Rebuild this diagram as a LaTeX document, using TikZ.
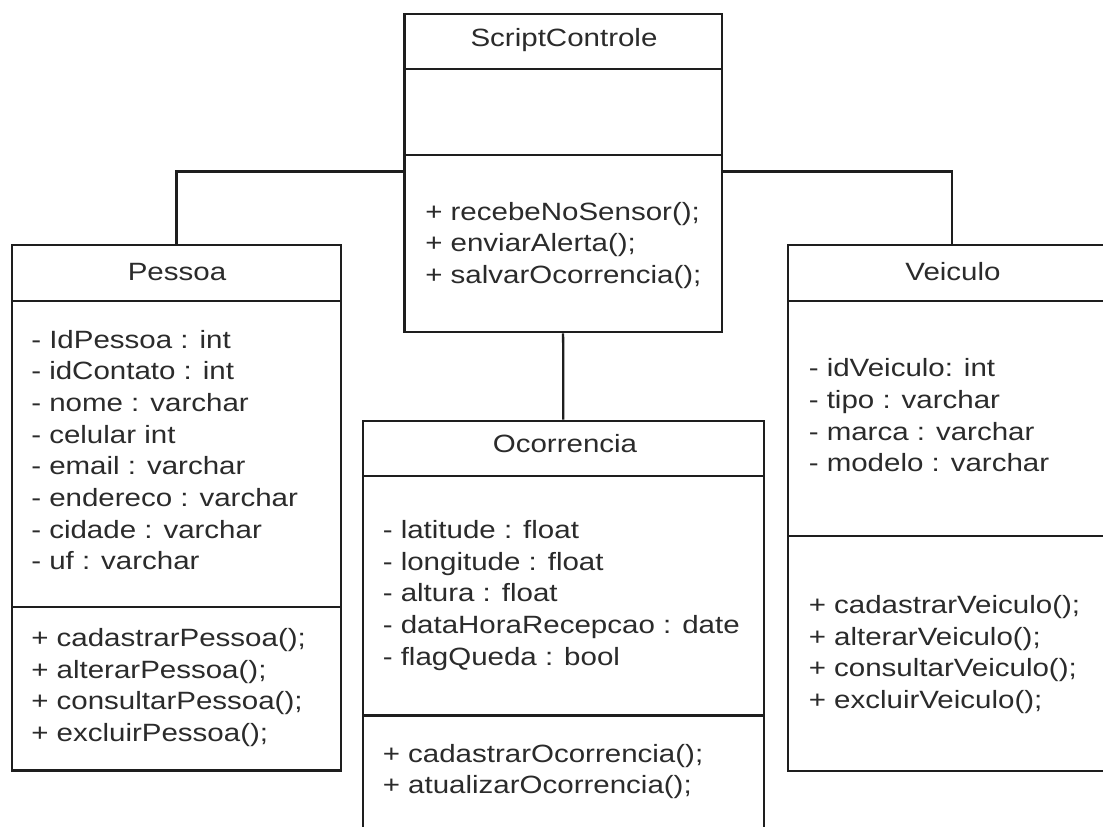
\documentclass[tikz,border=0pt]{standalone}
\usepackage{fontspec}
\setmainfont[FakeStretch=1.18]{Liberation Sans}
\usetikzlibrary{fit,calc}
\definecolor{ink}{HTML}{1E1E1E}
\definecolor{txtc}{HTML}{2B2B2B}
\begin{document}
\begin{tikzpicture}[x=0.75pt,y=-0.75pt,
  part/.style={draw=ink, line width=1.7pt, inner sep=0pt},
  conn/.style={draw=ink, line width=1.7pt},
  txt/.style={anchor=base west, inner sep=0pt, text=txtc,
    font=\fontsize{18.75pt}{22pt}\selectfont},
  ttl/.style={txt, anchor=base}]
\useasboundingbox (0,0) rectangle (1103,826);
\fill[white] (0,0) rectangle (1103,826);
\clip (0,0) rectangle (1103,826);

% ---- ScriptControle ----
\node[part, fit={(404.5,14) (721.7,69.3)}] (sc-t) {};
\node[part, fit={(404.5,69.3) (721.7,155)}] (sc-a) {};
\node[part, fit={(404.5,155) (721.7,332.3)}] (sc-m) {};
\node[ttl] (sc-name) at (564,46.7) {ScriptControle};
\foreach \t [count=\i] in {+ recebeNoSensor();, + enviarAlerta();, + salvarOcorrencia();}
  \node[txt] (sc-m\i) at (425,{220+(\i-1)*31.7}) {\t};

% ---- Pessoa ----
\node[part, fit={(12,245) (341,300.7)}] (pe-t) {};
\node[part, fit={(12,300.7) (341,606.7)}] (pe-a) {};
\node[part, fit={(12,606.7) (341,770.5)}] (pe-m) {};
\node[ttl] (pe-name) at (177,280) {Pessoa};
\foreach \t [count=\i] in {- IdPessoa : int, - idContato : int, - nome : varchar,
    - celular int, - email : varchar, - endereco : varchar, - cidade : varchar,
    - uf : varchar}
  \node[txt] (pe-a\i) at (31,{348+(\i-1)*31.7}) {\t};
\foreach \t [count=\i] in {+ cadastrarPessoa();, + alterarPessoa();,
    + consultarPessoa();, + excluirPessoa();}
  \node[txt] (pe-m\i) at (31,{646.5+(\i-1)*31.7}) {\t};

% ---- Veiculo ----
\node[part, fit={(788.3,245) (1116,300.7)}] (ve-t) {};
\node[part, fit={(788.3,300.7) (1116,536)}] (ve-a) {};
\node[part, fit={(788.3,536) (1116,770.7)}] (ve-m) {};
\node[ttl] (ve-name) at (953,280) {Veiculo};
\foreach \t [count=\i] in {- idVeiculo: int, - tipo : varchar, - marca : varchar,
    - modelo : varchar}
  \node[txt] (ve-a\i) at (808.5,{376.7+(\i-1)*31.7}) {\t};
\foreach \t [count=\i] in {+ cadastrarVeiculo();, + alterarVeiculo();,
    + consultarVeiculo();, + excluirVeiculo();}
  \node[txt] (ve-m\i) at (808.5,{613.3+(\i-1)*31.7}) {\t};

% ---- Ocorrencia ----
\node[part, fit={(362.7,420.7) (764,476)}] (oc-t) {};
\node[part, fit={(362.7,476) (764,715.5)}] (oc-a) {};
\node[part, fit={(362.7,715.5) (764,850)}] (oc-m) {};
\node[ttl] (oc-name) at (565,452.7) {Ocorrencia};
\foreach \t [count=\i] in {- latitude : float, - longitude : float, - altura : float,
    - dataHoraRecepcao : date, - flagQueda : bool}
  \node[txt] (oc-a\i) at (382.5,{538.5+(\i-1)*31.7}) {\t};
\foreach \t [count=\i] in {+ cadastrarOcorrencia();, + atualizarOcorrencia();}
  \node[txt] (oc-m\i) at (382.5,{762+(\i-1)*31.7}) {\t};

% ---- associations ----
\draw[conn] ($(sc-m.north west)+(0,17.7)$) -| (pe-t.north);
\draw[conn] ($(sc-m.north east)+(0,17.7)$) -| (ve-t.north);
\draw[conn] (sc-m.south) -- (oc-t.north);
\end{tikzpicture}
\end{document}
